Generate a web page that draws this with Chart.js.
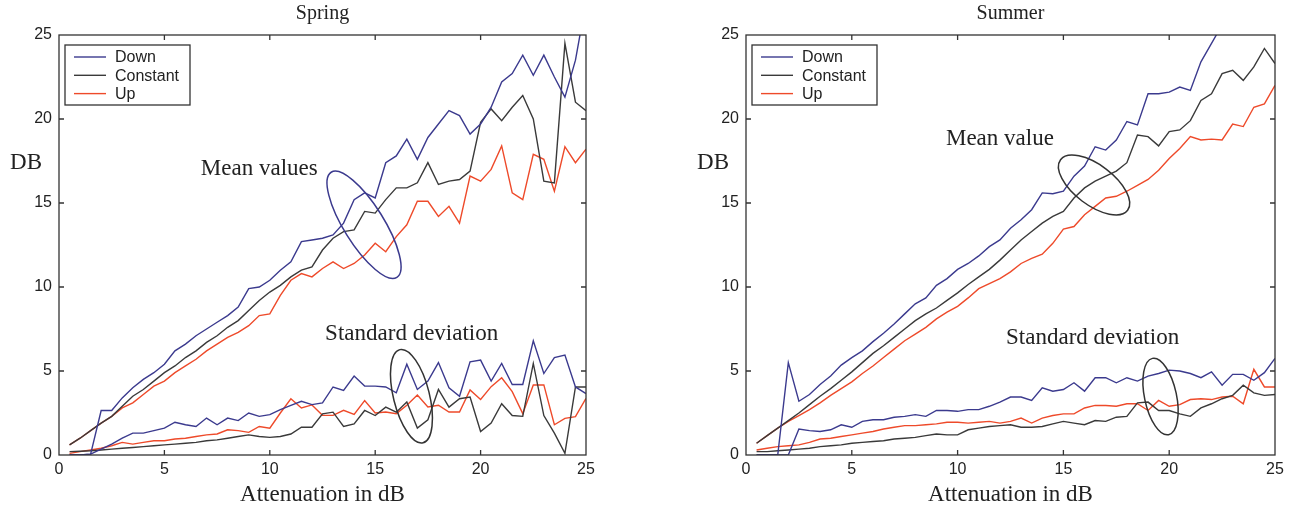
<!DOCTYPE html>
<html>
<head>
<meta charset="utf-8">
<title>Spring / Summer attenuation</title>
<script src="https://cdn.jsdelivr.net/npm/chart.js@4.4.1/dist/chart.umd.min.js"></script>
<style>
  html, body { margin: 0; padding: 0; background: #fff; }
  #wrap { position: relative; width: 1309px; height: 513px; }
  canvas { position: absolute; top: 0; }
  #spring { left: 0; }
  #summer { left: 650px; }
</style>
</head>
<body>
<div id="wrap">
  <canvas id="spring" width="650" height="513"></canvas>
  <canvas id="summer" width="659" height="513"></canvas>
</div>
<script>
// attenuation steps (dB)
const xs = [0.5,1,1.5,2,2.5,3,3.5,4,4.5,5, 5.5,6,6.5,7,7.5,8,8.5,9,9.5,10,
            10.5,11,11.5,12,12.5,13,13.5,14,14.5,15, 15.5,16,16.5,17,17.5,18,18.5,19,19.5,20,
            20.5,21,21.5,22,22.5,23,23.5,24,24.5,25];
const xTicks = [0, 5, 10, 15, 20, 25];
const yTicks = [0, 5, 10, 15, 20, 25];

const seriesNames = ["Down", "Constant", "Up"];
const seriesColors = ["#3b3a8e", "#3a3a3a", "#ee4a2a"];

// Spring - mean values
const springDownMean = [0,0,0.05,2.65,2.65,3.4,4.0,4.5,4.9,5.4, 6.2,6.6,7.1,7.5,7.9,8.3,8.8,9.9,10.0,10.4,
  11.0,11.5,12.7,12.8,12.9,13.1,13.8,15.2,15.6,15.3, 17.4,17.8,18.8,17.6,18.9,19.7,20.5,20.2,19.1,19.7,
  20.7,22.2,22.7,23.8,22.6,23.8,22.5,21.3,23.5,27];
const springConstMean = [0.6,1.0,1.45,1.9,2.3,2.9,3.5,3.9,4.4,4.9, 5.3,5.8,6.2,6.7,7.1,7.6,8.0,8.6,9.2,9.7,
  10.1,10.6,11.0,11.2,12.2,12.9,13.3,13.4,14.5,14.4, 15.2,15.9,15.9,16.2,17.4,16.1,16.3,16.4,16.9,19.8,
  20.6,19.9,20.7,21.4,20.0,16.3,16.2,24.5,21.0,20.5];
const springUpMean = [0.6,1.0,1.45,1.9,2.3,2.8,3.1,3.6,4.1,4.4, 4.9,5.3,5.7,6.2,6.6,7.0,7.3,7.7,8.3,8.4,
  9.5,10.4,10.8,10.6,11.1,11.5,11.1,11.4,11.9,12.6, 12.1,13.0,13.7,15.1,15.1,14.2,14.8,13.8,16.6,16.3,
  17.0,18.4,15.6,15.2,17.9,17.6,15.7,18.35,17.4,18.2];

// Spring - standard deviations
const springDownStd = [0,0,0.05,0.35,0.65,1.0,1.3,1.3,1.45,1.6, 1.95,1.8,1.7,2.2,1.8,2.2,2.05,2.5,2.3,2.4,
  2.7,2.95,3.2,3.0,3.1,4.05,3.85,4.7,4.1,4.1, 4.05,3.7,5.4,3.9,4.4,5.5,4.0,3.5,5.55,5.65,
  4.4,5.45,4.2,4.2,6.8,4.85,5.8,5.95,4.05,3.65];
const springConstStd = [0.2,0.22,0.25,0.3,0.35,0.4,0.45,0.5,0.55,0.6, 0.65,0.7,0.75,0.85,0.9,1.0,1.1,1.2,1.1,1.05,
  1.1,1.25,1.65,1.65,2.45,2.55,1.7,1.85,2.65,2.35, 2.85,2.55,3.15,1.6,2.1,3.9,2.85,3.35,3.45,1.4,
  1.9,3.05,2.35,2.3,5.45,2.35,1.3,0.1,4.05,4.05];
const springUpStd = [0.1,0.2,0.3,0.4,0.55,0.75,0.65,0.75,0.85,0.85, 0.95,1.0,1.1,1.2,1.25,1.5,1.45,1.35,1.7,1.6,
  2.5,3.35,2.8,2.98,2.36,2.36,2.66,2.42,3.24,2.5, 2.56,2.46,2.96,3.57,2.86,2.96,2.56,2.56,3.87,3.3,
  4.07,4.6,3.77,2.46,4.17,4.17,1.8,2.18,2.28,3.37];

// Summer - mean values
const summerDownMean = [0,0,0,5.5,3.2,3.6,4.2,4.7,5.35,5.8, 6.2,6.75,7.25,7.8,8.4,9.0,9.35,10.1,10.5,11.05,
  11.4,11.85,12.4,12.8,13.5,14.0,14.6,15.6,15.55,15.7, 16.6,17.2,18.35,18.15,18.75,19.85,19.65,21.5,21.5,21.6,
  21.9,21.7,23.4,24.5,25.6,null,null,null,null,null];
const summerConstMean = [0.7,1.15,1.6,2.05,2.5,3.0,3.5,3.95,4.45,4.95, 5.5,6.05,6.5,7.0,7.5,8.0,8.4,8.75,9.2,9.65,
  10.15,10.6,11.05,11.6,12.2,12.8,13.3,13.8,14.2,14.5, 15.3,15.9,16.3,16.6,16.9,17.4,19.05,18.95,18.4,19.25,
  19.35,19.9,21.1,21.5,22.7,22.9,22.3,23.1,24.2,23.3];
const summerUpMean = [0.7,1.15,1.6,2.0,2.35,2.7,3.1,3.55,3.95,4.35, 4.85,5.3,5.8,6.3,6.8,7.2,7.6,8.1,8.5,8.85,
  9.35,9.9,10.2,10.5,10.9,11.4,11.7,11.95,12.6,13.45, 13.6,14.3,14.8,15.3,15.4,15.7,16.05,16.4,16.95,17.65,
  18.25,18.95,18.75,18.8,18.75,19.7,19.55,20.7,20.9,22.0];

// Summer - standard deviations
const summerDownStd = [0,0,0,0,1.55,1.45,1.4,1.5,1.8,1.65, 2.0,2.1,2.1,2.25,2.3,2.4,2.3,2.65,2.65,2.6,
  2.7,2.7,2.9,3.15,3.45,3.45,3.25,4.0,3.8,3.9, 4.3,3.8,4.6,4.6,4.3,4.6,4.4,4.7,4.85,5.05,
  5.0,4.85,4.6,4.95,4.15,4.8,4.8,4.45,4.9,5.75];
const summerConstStd = [0.2,0.2,0.25,0.3,0.35,0.4,0.5,0.55,0.6,0.7, 0.75,0.8,0.85,0.95,1.0,1.05,1.15,1.25,1.2,1.2,
  1.5,1.6,1.7,1.75,1.8,1.65,1.65,1.7,1.85,2.0, 1.9,1.8,2.05,2.0,2.25,2.3,3.1,3.15,2.65,2.65,
  2.45,2.3,2.8,3.05,3.35,3.55,4.15,3.7,3.55,3.6];
const summerUpStd = [0.3,0.4,0.5,0.55,0.6,0.75,0.95,1.0,1.1,1.2, 1.3,1.4,1.55,1.65,1.75,1.75,1.8,1.85,1.95,1.95,
  1.9,1.95,2.0,1.9,2.0,2.2,1.9,2.2,2.35,2.45, 2.45,2.8,2.95,2.95,2.9,3.05,3.05,2.65,3.25,2.9,
  3.0,3.3,3.35,3.3,3.45,3.5,3.05,5.1,4.05,4.05];

const serif = "'Liberation Serif', 'Times New Roman', serif";
const sans = "'Liberation Sans', Arial, sans-serif";
const ink = "#222";

function pts(vals) {
  return vals.map((v, i) => ({ x: xs[i], y: v }));
}

function makeDatasets(means, stds) {
  const sets = [];
  means.forEach((m, i) => sets.push({
    label: seriesNames[i], data: pts(m), borderColor: seriesColors[i],
    borderWidth: 1.4, pointRadius: 0, tension: 0, fill: false
  }));
  stds.forEach((s, i) => sets.push({
    label: seriesNames[i] + " std", data: pts(s), borderColor: seriesColors[i],
    borderWidth: 1.4, pointRadius: 0, tension: 0, fill: false
  }));
  return sets;
}

// frame with inward ticks, legend box, ellipses and notes (matlab style)
const decor = {
  id: "decor",
  afterDatasetsDraw(chart, args, opts) {
    const { ctx, chartArea: a, scales: { x, y } } = chart;
    ctx.save();
    ctx.strokeStyle = "#333";
    ctx.lineWidth = 1.3;
    ctx.strokeRect(a.left, a.top, a.right - a.left, a.bottom - a.top);
    ctx.beginPath();
    xTicks.slice(1, -1).forEach(v => {
      const px = x.getPixelForValue(v);
      ctx.moveTo(px, a.bottom); ctx.lineTo(px, a.bottom - 5);
      ctx.moveTo(px, a.top); ctx.lineTo(px, a.top + 5);
    });
    yTicks.slice(1, -1).forEach(v => {
      const py = y.getPixelForValue(v);
      ctx.moveTo(a.left, py); ctx.lineTo(a.left + 5, py);
      ctx.moveTo(a.right, py); ctx.lineTo(a.right - 5, py);
    });
    ctx.stroke();

    // ellipses around groups of curves
    opts.ellipses.forEach(e => {
      ctx.beginPath();
      ctx.strokeStyle = e.color;
      ctx.lineWidth = 1.5;
      ctx.ellipse(x.getPixelForValue(e.x), y.getPixelForValue(e.y), e.rx, e.ry, e.angle * Math.PI / 180, 0, Math.PI * 2);
      ctx.stroke();
    });

    // notes
    ctx.fillStyle = ink;
    ctx.font = "23px " + serif;
    ctx.textAlign = "center";
    ctx.textBaseline = "middle";
    opts.notes.forEach(n => ctx.fillText(n.text, x.getPixelForValue(n.x), y.getPixelForValue(n.y)));

    // "DB" label, horizontal
    ctx.fillText("DB", a.left - 33, a.top + 128);

    // legend
    const lx = a.left + 6, ly = a.top + 10;
    ctx.fillStyle = "#fff";
    ctx.fillRect(lx, ly, 125, 60);
    ctx.strokeStyle = "#333";
    ctx.lineWidth = 1.3;
    ctx.strokeRect(lx, ly, 125, 60);
    ctx.font = "16px " + sans;
    ctx.textAlign = "left";
    chart.data.datasets.slice(0, 3).forEach((ds, i) => {
      const ry = ly + 12 + i * 18.3;
      ctx.beginPath();
      ctx.strokeStyle = ds.borderColor;
      ctx.lineWidth = 1.4;
      ctx.moveTo(lx + 9, ry);
      ctx.lineTo(lx + 41, ry);
      ctx.stroke();
      ctx.fillStyle = ink;
      ctx.fillText(ds.label, lx + 50, ry + 1);
    });
    ctx.restore();
  }
};

function makeChart(id, title, means, stds, pad, ellipses, notes) {
  return new Chart(document.getElementById(id), {
    type: "line",
    data: { datasets: makeDatasets(means, stds) },
    plugins: [decor],
    options: {
      responsive: false,
      animation: false,
      devicePixelRatio: 1,
      layout: { padding: pad },
      scales: {
        x: {
          type: "linear", min: 0, max: 25,
          grid: { display: false, drawTicks: false },
          border: { display: false },
          afterBuildTicks: s => { s.ticks = xTicks.map(v => ({ value: v })); },
          afterFit: s => { s.height = 58; },
          ticks: { padding: 5, color: ink, font: { family: sans, size: 16 }, maxRotation: 0 },
          title: { display: true, text: "Attenuation in dB", color: ink, font: { family: serif, size: 23 }, padding: { top: 0, bottom: 4 } }
        },
        y: {
          type: "linear", min: 0, max: 25,
          grid: { display: false, drawTicks: false },
          border: { display: false },
          afterBuildTicks: s => { s.ticks = yTicks.map(v => ({ value: v })); },
          afterFit: s => { s.width = 59; },
          ticks: { padding: 7, color: ink, font: { family: sans, size: 16 } }
        }
      },
      plugins: {
        legend: { display: false },
        tooltip: { enabled: false },
        title: {
          display: true, text: title, fullSize: false, color: ink,
          font: { family: serif, size: 20, weight: "normal" },
          padding: { top: 2, bottom: 9 }
        },
        decor: { ellipses: ellipses, notes: notes }
      }
    }
  });
}

makeChart("spring", "Spring",
  [springDownMean, springConstMean, springUpMean],
  [springDownStd, springConstStd, springUpStd],
  { left: 0, right: 64, top: 0, bottom: 0 },
  [
    { x: 14.47, y: 13.7, rx: 62, ry: 20, angle: 58, color: "#3b3a8e" },
    { x: 16.72, y: 3.5, rx: 48, ry: 18, angle: 76, color: "#333" }
  ],
  [
    { text: "Mean values", x: 9.5, y: 17.05 },
    { text: "Standard deviation", x: 16.73, y: 7.2 }
  ]);

makeChart("summer", "Summer",
  [summerDownMean, summerConstMean, summerUpMean],
  [summerDownStd, summerConstStd, summerUpStd],
  { left: 37, right: 34, top: 0, bottom: 0 },
  [
    { x: 16.45, y: 16.07, rx: 42, ry: 20, angle: 37, color: "#333" },
    { x: 19.59, y: 3.48, rx: 39, ry: 16, angle: 78, color: "#333" }
  ],
  [
    { text: "Mean value", x: 12.0, y: 18.8 },
    { text: "Standard deviation", x: 16.38, y: 6.96 }
  ]);
</script>
</body>
</html>
